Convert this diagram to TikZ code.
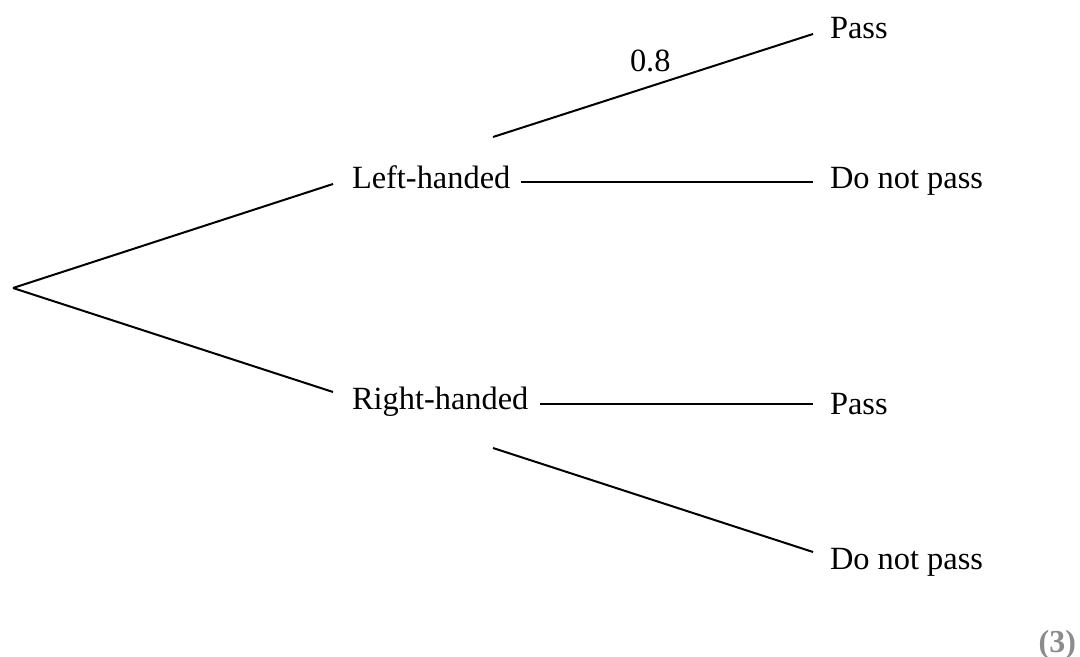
\documentclass[tikz,border=0pt]{standalone}
\usepackage{fontspec}
\setmainfont{Liberation Serif}
\definecolor{markgray}{HTML}{8C8C8C}
\begin{document}
\begin{tikzpicture}[x=0.5pt, y=-0.5pt, line width=1pt,
  lbl/.style={font=\fontsize{16.2}{19}\selectfont, inner sep=0pt, anchor=base west},
  marks/.style={font=\fontsize{16}{19}\selectfont\bfseries, text=markgray, inner sep=0pt, anchor=base east}]
\useasboundingbox (0,0) rectangle (1080,657);

% branch ends
\coordinate (root) at (13,288);
\coordinate (lhIn) at (333,184);
\coordinate (rhIn) at (333,392);
\coordinate (lhOutA) at (493,137);
\coordinate (lhOutB) at (521,182);
\coordinate (rhOutA) at (540,404);
\coordinate (rhOutB) at (493,448);
\coordinate (lpIn) at (813,34);
\coordinate (lfIn) at (813,182);
\coordinate (rpIn) at (813,404);
\coordinate (rfIn) at (813,552);

% labels
\node[lbl] (lh) at (351,189) {Left-handed};
\node[lbl] (rh) at (351,409) {Right-handed};
\node[lbl] (lp) at (829,39) {Pass};
\node[lbl] (lf) at (829,189) {Do not pass};
\node[lbl] (rp) at (829,414) {Pass};
\node[lbl] (rf) at (829,569) {Do not pass};
\node[lbl] (prob) at (629,72) {0.8};
\node[marks] (score) at (1077,652) {(3)};

% first stage
\draw (root) -- (lhIn);
\draw (root) -- (rhIn);
% second stage
\draw (lhOutA) -- (lpIn);
\draw (lhOutB) -- (lfIn);
\draw (rhOutA) -- (rpIn);
\draw (rhOutB) -- (rfIn);
\end{tikzpicture}
\end{document}
